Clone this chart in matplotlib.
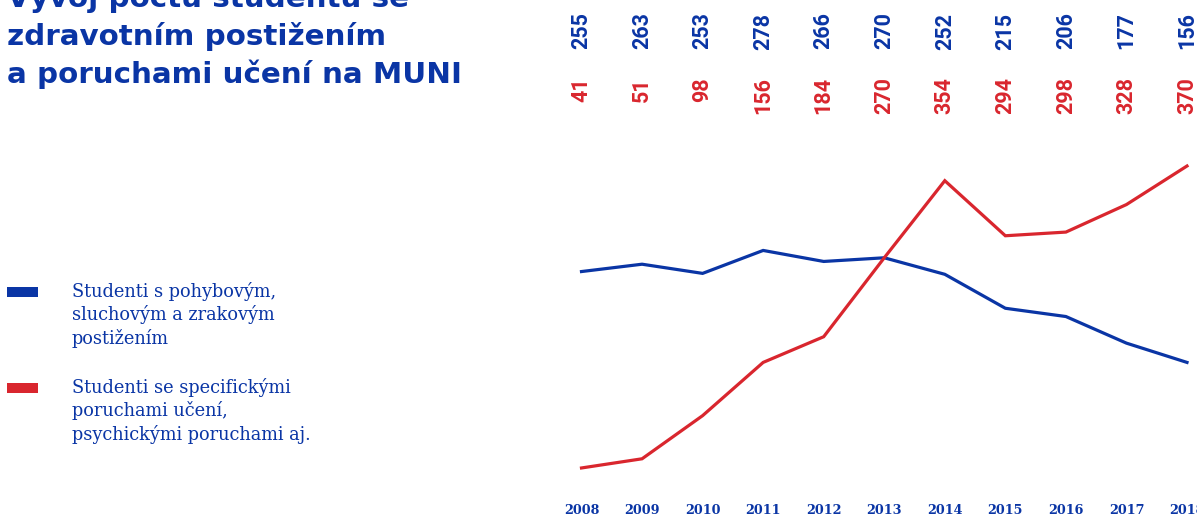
import matplotlib
matplotlib.use("Agg")
import matplotlib.pyplot as plt
from matplotlib.patches import Rectangle
from matplotlib.transforms import blended_transform_factory

# Data
years = [2008, 2009, 2010, 2011, 2012, 2013, 2014, 2015, 2016, 2017, 2018]
tělesné = [255, 263, 253, 278, 266, 270, 252, 215, 206, 177, 156]
učení = [41, 51, 98, 156, 184, 270, 354, 294, 298, 328, 370]

title_lines = ["Vývoj počtu studentů se",
               "zdravotním postižením",
               "a poruchami učení na MUNI"]
legend_blue = "Studenti s pohybovým,\nsluchovým a zrakovým\npostižením"
legend_red = "Studenti se specifickými\nporuchami učení,\npsychickými poruchami aj."

BLUE = "#0a35a5"
RED = "#d9262e"

W, H = 1197, 517
fig = plt.figure(figsize=(W / 100, H / 100), dpi=100)

def fx(x):
    return x / W

def fy(y):
    return 1 - y / H

# Plot area: 2008 at px 581.5, 2018 at px 1187; 0 at px 505.6, 370 at px 166
ax = fig.add_axes([fx(581.5), fy(505.6), fx(1187) - fx(581.5), fy(166) - fy(505.6)])
ax.set_xlim(2008, 2018)
ax.set_ylim(0, 370)
ax.axis("off")

ax.plot(years, tělesné, color=BLUE, lw=2.3, clip_on=False, solid_joinstyle="miter")
ax.plot(years, učení, color=RED, lw=2.3, clip_on=False, solid_joinstyle="miter")

# Rotated values above the chart
trans = blended_transform_factory(ax.transData, fig.transFigure)
for yr, b, r in zip(years, tělesné, učení):
    ax.text(yr, fy(12.5), str(b), transform=trans, rotation=90, ha="center", va="top",
            color=BLUE, fontsize=15.5, fontweight="bold", family="Roboto")
    ax.text(yr, fy(77), str(r), transform=trans, rotation=90, ha="center", va="top",
            color=RED, fontsize=15.5, fontweight="bold", family="Roboto")
    ax.text(yr, fy(511), str(yr), transform=trans, ha="center", va="center",
            color=BLUE, fontsize=9.2, fontweight="bold", family="DejaVu Serif")

# Title
for i, line in enumerate(title_lines):
    fig.text(fx(7), fy(6.7 + 38.3 * i), line, ha="left", va="baseline",
             color=BLUE, fontsize=21.2, fontweight="bold", family="DejaVu Sans")

# Legend
fig.patches.append(Rectangle((fx(7.3), fy(296.7)), fx(30.4), 9.4 / H,
                             transform=fig.transFigure, color=BLUE, lw=0))
fig.patches.append(Rectangle((fx(7.3), fy(392.7)), fx(30.4), 9.4 / H,
                             transform=fig.transFigure, color=RED, lw=0))
for i, line in enumerate(legend_blue.split("\n")):
    fig.text(fx(72), fy(296.7 + 23.7 * i), line, ha="left", va="baseline",
             color=BLUE, fontsize=12.8, family="DejaVu Serif")
for i, line in enumerate(legend_red.split("\n")):
    fig.text(fx(72), fy(392.7 + 23.7 * i), line, ha="left", va="baseline",
             color=BLUE, fontsize=12.8, family="DejaVu Serif")

fig.savefig("out.png", dpi=100)
